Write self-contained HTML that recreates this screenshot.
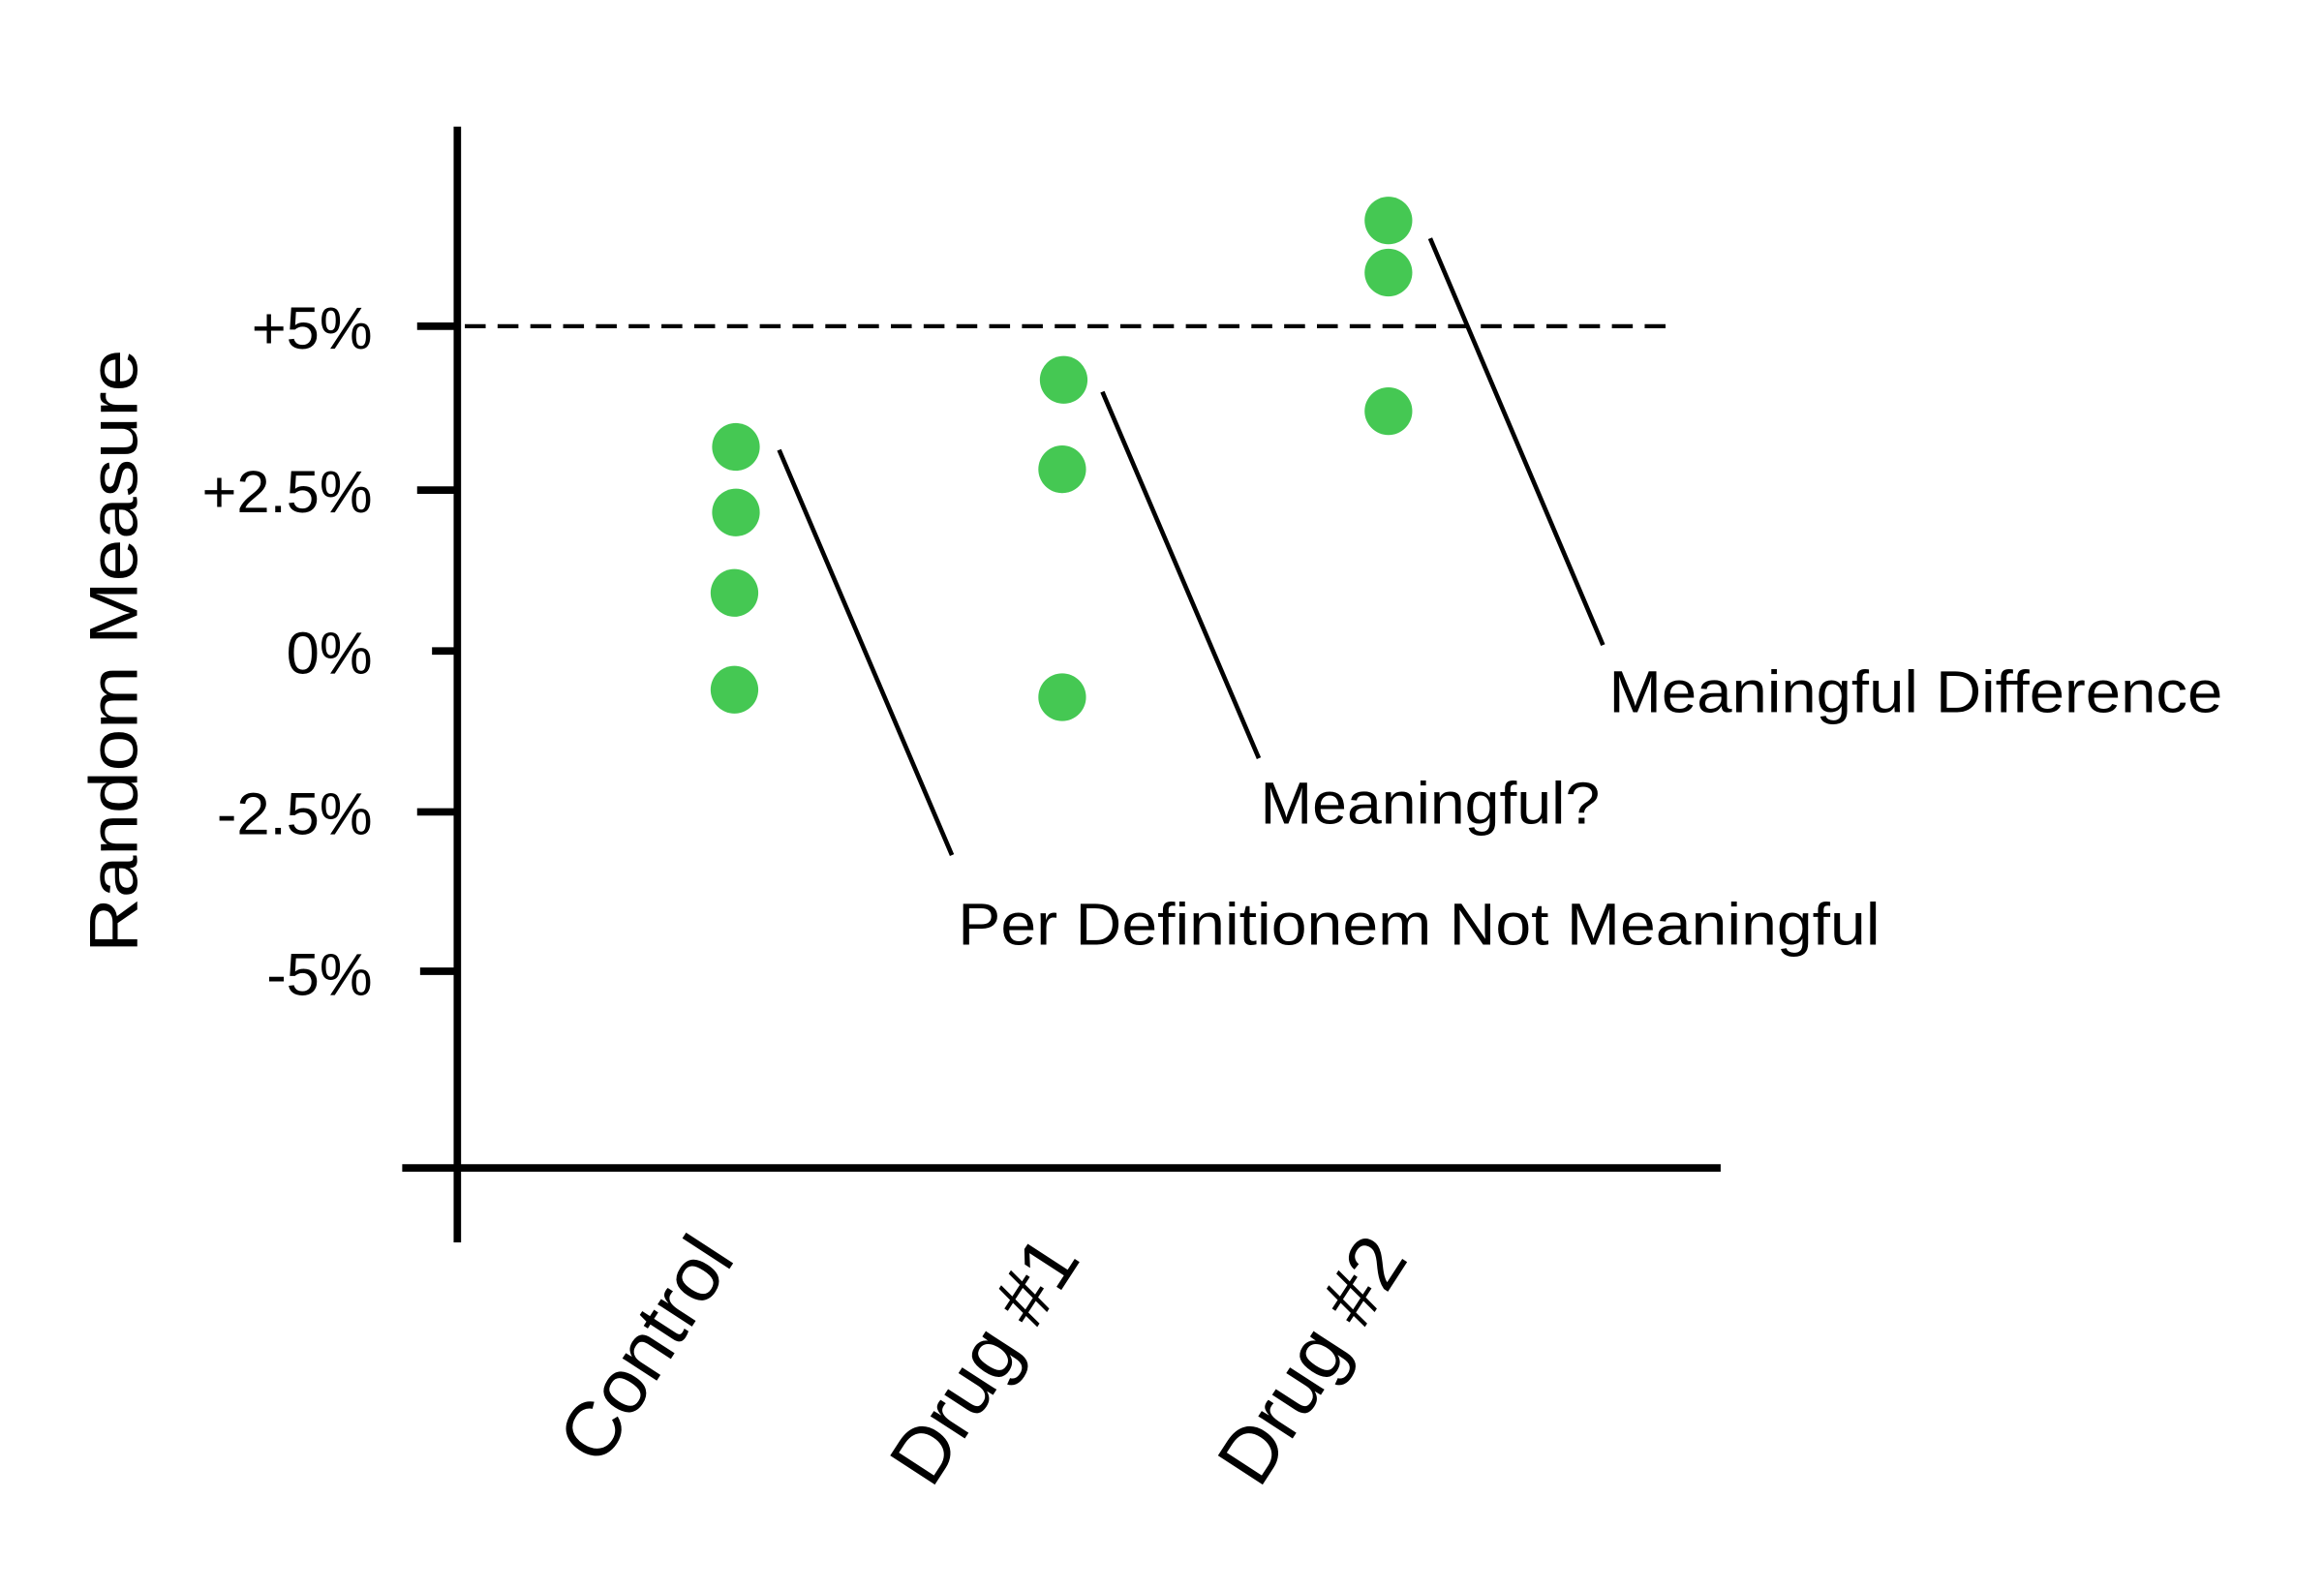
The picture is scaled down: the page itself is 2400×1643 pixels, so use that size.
<!DOCTYPE html>
<html><head><meta charset="utf-8"><style>html,body{margin:0;padding:0;background:#fff}svg{display:block}</style></head>
<body>
<svg width="2400" height="1643" viewBox="0 0 1560 1068" preserveAspectRatio="none" xmlns="http://www.w3.org/2000/svg" font-family="Liberation Sans, sans-serif" fill="#000">
<rect width="1560" height="1068" fill="#fff"/>
<g stroke="#000" stroke-width="5">
<line x1="307" y1="85" x2="307" y2="834"/>
<line x1="270" y1="784" x2="1155" y2="784"/>
<line x1="280" y1="219" x2="307" y2="219"/>
<line x1="280" y1="329" x2="307" y2="329"/>
<line x1="290" y1="437" x2="307" y2="437"/>
<line x1="280" y1="545" x2="307" y2="545"/>
<line x1="282" y1="652" x2="307" y2="652"/>
</g>
<line x1="312" y1="219" x2="1125" y2="219" stroke="#000" stroke-width="2.8" stroke-dasharray="14,8"/>
<g fill="#45c853">
<circle cx="494" cy="300" r="16"/><circle cx="494" cy="344" r="16"/><circle cx="493" cy="398" r="16"/><circle cx="493" cy="463" r="16"/>
<circle cx="714" cy="255" r="16"/><circle cx="713" cy="315" r="16"/><circle cx="713" cy="468" r="16"/>
<circle cx="932" cy="148" r="16"/><circle cx="932" cy="183" r="16"/><circle cx="932" cy="276" r="16"/>
</g>
<g stroke="#000" stroke-width="3">
<line x1="523" y1="302" x2="639" y2="574"/>
<line x1="740" y1="263" x2="845" y2="509"/>
<line x1="960" y1="160" x2="1076" y2="433"/>
</g>
<g font-size="40">
<text x="643" y="634" textLength="619" lengthAdjust="spacingAndGlyphs">Per Definitionem Not Meaningful</text>
<text x="846" y="553" textLength="228" lengthAdjust="spacingAndGlyphs">Meaningful?</text>
<text x="1080" y="478" textLength="412" lengthAdjust="spacingAndGlyphs">Meaningful Difference</text>
</g>
<g font-size="40" text-anchor="end">
<text x="250" y="234">+5%</text>
<text x="250" y="344">+2.5%</text>
<text x="250" y="452">0%</text>
<text x="250" y="560">-2.5%</text>
<text x="250" y="668">-5%</text>
</g>
<text transform="translate(92,437) rotate(-90)" font-size="46" text-anchor="middle" textLength="405" lengthAdjust="spacingAndGlyphs">Random Measure</text>
<g font-size="52" text-anchor="end">
<text transform="translate(494,845) rotate(-57)">Control</text>
<text transform="translate(726,845) rotate(-57)">Drug #1</text>
<text transform="translate(946,845) rotate(-57)">Drug #2</text>
</g>
</svg>
</body></html>
